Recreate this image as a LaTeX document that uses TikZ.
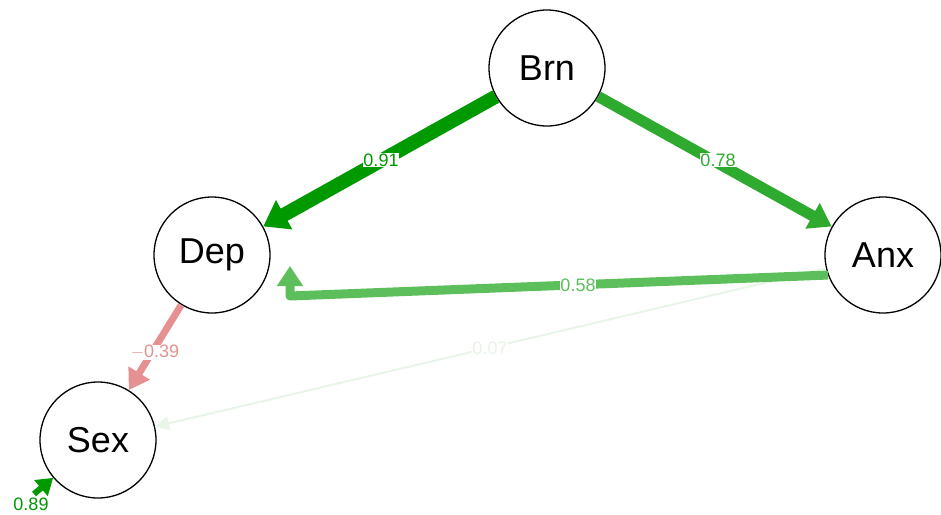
\documentclass[tikz,border=0pt]{standalone}
\usepackage{fontspec}
\setmainfont{Liberation Sans}
\usetikzlibrary{arrows.meta}
\definecolor{gA}{HTML}{009900}
\definecolor{gB}{HTML}{2EAA2E}
\definecolor{gC}{HTML}{5CBF5C}
\definecolor{gD}{HTML}{E8F5E8}
\definecolor{pA}{HTML}{E69191}
\begin{document}
\begin{tikzpicture}[x=1pt,y=-1pt,
  var/.style={circle,draw=black,line width=1.3pt,minimum size=116pt,inner sep=0pt,font=\fontsize{36}{38}\selectfont},
  wlab/.style={fill=white,inner sep=0.5pt,font=\fontsize{18}{20}\selectfont}]
\useasboundingbox (0,0) rectangle (941,514);
\node[var] (brn) at (547,68) {Brn};
\node[var] (dep) at (212,255) {Dep};
\node[var] (anx) at (883,255) {Anx};
\node[var] (sex) at (98,440) {Sex};
\coordinate (bend) at (290,296);
\coordinate (res) at (34,494);
% regression paths
\draw[gD,line width=2pt,-{Triangle[length=14pt,width=14pt]}] (anx) -- (sex);
\node[wlab,text=gD] (l07) at (490,348) {0.07};
\draw[gA,line width=14pt,-{Triangle[length=24pt,width=32pt]}] (brn) -- (dep);
\node[wlab,text=gA] (l91) at (381,160) {0.91};
\draw[gB,line width=11pt,-{Triangle[length=22pt,width=28pt]}] (brn) -- (anx);
\node[wlab,text=gB] (l78) at (718,160) {0.78};
\draw[gC,line width=9pt,line join=round,-{Triangle[length=20pt,width=25pt]}] (anx.200) -- (bend) -- (290,266);
\node[wlab,text=gC] (l58) at (578,285) {0.58};
\draw[pA,line width=7pt,-{Triangle[length=20pt,width=24pt]}] (dep) -- (sex);
\node[wlab,text=pA] (l39) at (155,352) {$-$0.39};
\draw[gA,line width=6pt,-{Triangle[length=16pt,width=20pt]}] (res) -- (sex);
\node[text=gA,inner sep=0pt,font=\fontsize{18}{20}\selectfont] (l89) at (31,504) {0.89};
\end{tikzpicture}
\end{document}
